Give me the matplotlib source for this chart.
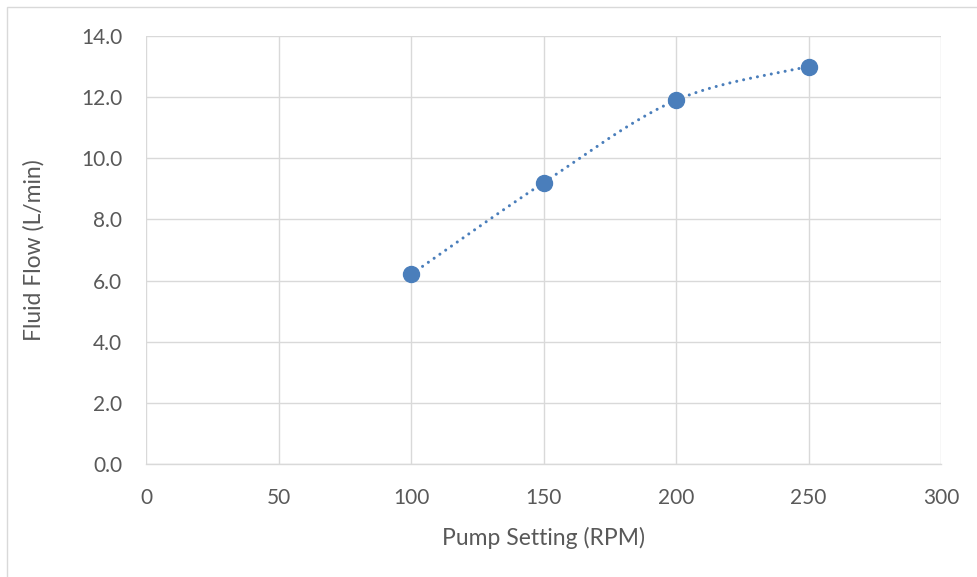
import numpy as np
import matplotlib
matplotlib.use("Agg")
import matplotlib.pyplot as plt
from matplotlib.patches import Rectangle

# Pump calibration data
pump_rpm = [100, 150, 200, 250]
flow_lpm = [6.2, 9.2, 11.9, 13.0]

x_ticks = [0, 50, 100, 150, 200, 250, 300]
y_ticks = [0, 2, 4, 6, 8, 10, 12, 14]

BLUE = "#4A7EBB"
GRID = "#D9D9D9"
TEXT = "#595959"

plt.rcParams["font.family"] = ["Lato", "DejaVu Sans"]


def smooth_curve(xs, ys, n=60):
    """Catmull-Rom style Bezier smoothing through the data points."""
    px = np.array(xs, float)
    py = np.array(ys, float)
    P = np.column_stack([px, py])
    P_ext = np.vstack([P[0], P, P[-1]])
    out = []
    t = np.linspace(0, 1, n)[:, None]
    for i in range(1, len(P_ext) - 2):
        p0, p1, p2, p3 = P_ext[i - 1], P_ext[i], P_ext[i + 1], P_ext[i + 2]
        c1 = p1 + (p2 - p0) / 6.0
        c2 = p2 - (p3 - p1) / 6.0
        seg = ((1 - t) ** 3) * p1 + 3 * ((1 - t) ** 2) * t * c1 + 3 * (1 - t) * t ** 2 * c2 + t ** 3 * p2
        out.append(seg if i == 1 else seg[1:])
    curve = np.vstack(out)
    return curve[:, 0], curve[:, 1]


fig = plt.figure(figsize=(9.77, 5.77), dpi=100)
fig.patches.append(Rectangle((7 / 977, -0.01), 1.02, 1 - 7 / 577 + 0.01, transform=fig.transFigure,
                             fill=False, edgecolor="#D9D9D9", linewidth=1.0))

ax = fig.add_axes([146 / 977, 1 - 464 / 577, (941 - 146) / 977, (464 - 36) / 577])

cx, cy = smooth_curve(pump_rpm, flow_lpm)
ax.plot(cx, cy, color=BLUE, linewidth=2.2, linestyle=(0, (0.01, 2.3)),
        dash_capstyle="round", zorder=3)
ax.plot(pump_rpm, flow_lpm, linestyle="none", marker="o", markersize=11.5,
        color=BLUE, markeredgecolor=BLUE, zorder=4)

ax.set_xlim(0, 300)
ax.set_ylim(0, 14)
ax.set_xticks(x_ticks)
ax.set_yticks(y_ticks)
ax.set_xticklabels([str(v) for v in x_ticks])
ax.set_yticklabels([f"{v:.1f}" for v in y_ticks])

ax.grid(True, color=GRID, linewidth=1.0)
ax.set_axisbelow(True)
for side in ["top", "right", "left"]:
    ax.spines[side].set_visible(False)
ax.spines["bottom"].set_color(GRID)
ax.spines["bottom"].set_linewidth(1.0)

ax.tick_params(axis="both", length=0, labelsize=15, labelcolor=TEXT)
ax.tick_params(axis="x", pad=17)
ax.tick_params(axis="y", pad=17)

ax.set_xlabel("Pump Setting (RPM)", fontsize=16.5, color=TEXT, labelpad=14)
ax.set_ylabel("Fluid Flow (L/min)", fontsize=16.5, color=TEXT, labelpad=26)

fig.savefig("out.png", dpi=100)
